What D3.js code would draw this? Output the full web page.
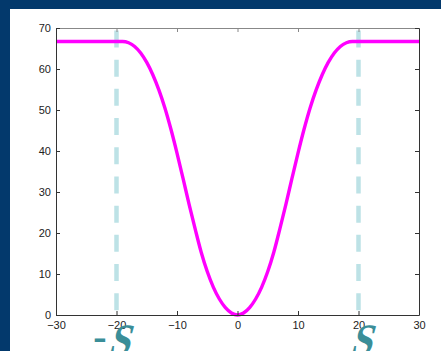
<!DOCTYPE html>
<html lang="en">
  <head>
    <meta charset="utf-8">
    <title>Flat-topped well</title>
    <script src="https://d3js.org/d3.v7.js"></script>
    <style>
      body { margin: 0; background: #03396c; }
      svg { display: block; }
      .tick text { font-family: "Liberation Sans", Arial, sans-serif; font-size: 11px; fill: #222; }
    </style>
  </head>
  <body>
    <svg></svg>
  <script>

// data

  var xs = [-30, -25, -20, -19, -18, -17, -16, -15, -14, -13, -12, -11, -10, -9, -8, -7, -6, -5, -4, -3, -2, -1,
            0, 1, 2, 3, 4, 5, 6, 7, 8, 9, 10, 11, 12, 13, 14, 15, 16, 17, 18, 19, 20, 25, 30];
  var ys = [66.7, 66.7, 66.7, 66.7, 66.4, 65.5, 63.9, 61.6, 58.6, 54.9, 50.5, 45.3, 39.5, 33.3, 27, 21, 15.3, 10.6, 6.8, 3.9, 1.8, 0.5,
            0, 0.5, 1.8, 3.9, 6.8, 10.6, 15.3, 21, 27, 33.3, 39.5, 45.3, 50.5, 54.9, 58.6, 61.6, 63.9, 65.5, 66.4, 66.7, 66.7, 66.7, 66.7];
  var xTicks = [-30, -20, -10, 0, 10, 20, 30];
  var yTicks = [0, 10, 20, 30, 40, 50, 60, 70];
  var bounds = [-20, 20];
  var boundLabels = ["-", "S"];

  var w = 441;
  var h = 351;
  var margin = {top: 28, right: 22, bottom: 36, left: 56};
  var innerWidth = w - margin.left - margin.right;
  var innerHeight = h - margin.top - margin.bottom;

  var svg = d3.select("svg")
      .attr("width", w)
      .attr("height", h);

  // white panel
  svg.append("rect")
      .attr("x", 10)
      .attr("y", 9)
      .attr("width", w - 10)
      .attr("height", h - 9)
      .attr("fill", "white");

  var xScale = d3.scaleLinear()
      .domain([-30, 30])
      .range([0, innerWidth]);

  var yScale = d3.scaleLinear()
      .domain([0, 70])
      .range([innerHeight, 0]);

  var g = svg.append("g")
      .attr("transform", `translate(${margin.left}, ${margin.top})`);

// dashed boundary lines

  g.selectAll(".bound")
      .data(bounds)
    .enter().append("line")
      .attr("class", "bound")
      .attr("x1", d => xScale(d))
      .attr("x2", d => xScale(d))
      .attr("y1", yScale(69.4))
      .attr("y2", innerHeight)
      .attr("stroke", "#bde2e6")
      .attr("stroke-width", 4.5)
      .attr("stroke-dasharray", "17,12.2");

// curve

  var points = xs.map((x, i) => [x, ys[i]]);

  var line = d3.line()
      .x(d => xScale(d[0]))
      .y(d => yScale(d[1]))
      .curve(d3.curveMonotoneX);

  g.append("path")
      .datum(points)
      .attr("d", line)
      .attr("fill", "none")
      .attr("stroke", "#ff00ff")
      .attr("stroke-width", 3.4);

// axes, matlab style box with inward ticks

  var axisColor = "#333";

  var xAxis = g.append("g")
      .attr("transform", `translate(0, ${innerHeight})`)
      .call(d3.axisBottom(xScale).tickValues(xTicks).tickSizeInner(-4).tickSizeOuter(0).tickPadding(7));

  var xTop = g.append("g")
      .call(d3.axisTop(xScale).tickValues(xTicks).tickSizeInner(-4).tickSizeOuter(0).tickFormat(""));

  var yAxis = g.append("g")
      .call(d3.axisLeft(yScale).tickValues(yTicks).tickSizeInner(-4).tickSizeOuter(0).tickPadding(5));

  var yRight = g.append("g")
      .attr("transform", `translate(${innerWidth}, 0)`)
      .call(d3.axisRight(yScale).tickValues(yTicks).tickSizeInner(-4).tickSizeOuter(0).tickFormat(""));

  [xAxis, yAxis, yRight].forEach(a => {
    a.selectAll("path, line").attr("stroke", axisColor);
  });
  xTop.selectAll("path, line").attr("stroke", "#888");

  xAxis.selectAll(".tick text").attr("dy", "0.6em");
  yAxis.selectAll(".tick text").attr("dy", "0.3em");

// -S and S labels (slanted by hand, the serif italic face is not there)

  var labels = svg.append("g")
      .attr("transform", `translate(${margin.left}, ${margin.top})`)
      .attr("font-family", "'Liberation Serif', 'DejaVu Serif', serif")
      .attr("fill", "#3a8e98");

  labels.selectAll(".slabel")
      .data(bounds)
    .enter().append("text")
      .attr("class", "slabel")
      .attr("transform", d => `translate(${xScale(d) + 2}, ${innerHeight + 40}) skewX(-16) scale(0.85, 1)`)
      .attr("text-anchor", "middle")
      .attr("font-weight", "bold")
      .attr("font-size", 45)
      .text(boundLabels[1]);

  labels.append("text")
      .attr("x", xScale(bounds[0]) - 10)
      .attr("y", innerHeight + 35)
      .attr("text-anchor", "end")
      .attr("font-size", 40)
      .attr("font-weight", "bold")
      .text(boundLabels[0]);

    </script>
  </body>
</html>
